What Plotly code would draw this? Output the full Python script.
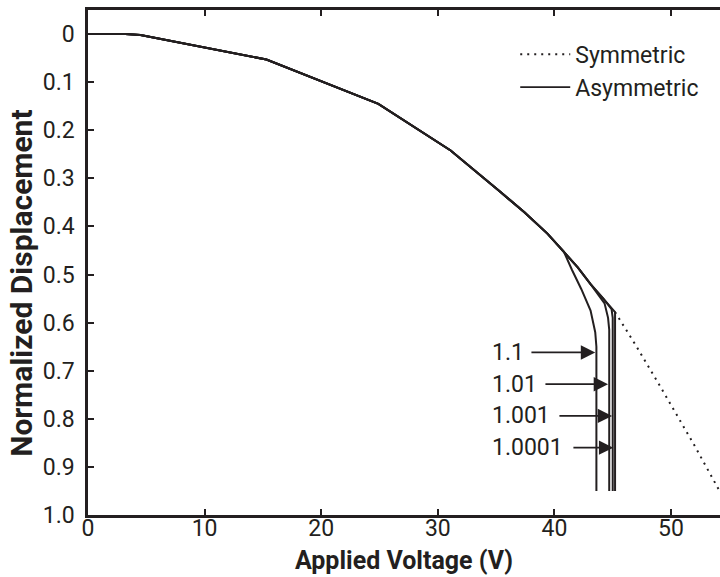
import plotly.graph_objects as go

# ---------------- data ----------------
# shared (stable) branch, identical for all cases
V_common = [0.0, 3.2, 4.5, 15.3, 24.9, 31.1, 35.3, 37.4, 39.4, 40.8]
D_common = [0.0, 0.0, 0.002, 0.053, 0.145, 0.242, 0.327, 0.370, 0.415, 0.452]

# asymmetric tails (after the shared branch)
V_tail_1p1 = [41.5, 42.3, 43.1, 43.5, 43.6, 43.6]
D_tail_1p1 = [0.490, 0.530, 0.575, 0.620, 0.650, 0.950]

V_tail_1p01 = [42.0, 43.1, 43.7, 44.3, 44.6, 44.7, 44.7]
D_tail_1p01 = [0.485, 0.520, 0.540, 0.560, 0.590, 0.615, 0.950]

V_tail_1p001 = [42.0, 43.1, 44.2, 44.9, 45.0, 45.0]
D_tail_1p001 = [0.485, 0.520, 0.550, 0.572, 0.590, 0.950]

V_tail_1p0001 = [42.0, 43.1, 44.2, 45.2, 45.2]
D_tail_1p0001 = [0.485, 0.520, 0.550, 0.578, 0.950]

# symmetric branch beyond pull-in (dotted)
V_sym = [45.2, 47.0, 49.3, 52.0, 54.5]
D_sym = [0.578, 0.648, 0.742, 0.855, 0.965]

# labels for asymmetry ratios
ratio_labels = ["1.1", "1.01", "1.001", "1.0001"]
ratio_label_y = [0.662, 0.728, 0.794, 0.860]
arrow_tail_x = [37.9, 39.1, 40.3, 41.5]
arrow_tip_x = [43.5, 44.6, 44.95, 45.05]
label_x = 34.5

x_ticks = [0, 10, 20, 30, 40, 50]
y_ticks = [0, 0.1, 0.2, 0.3, 0.4, 0.5, 0.6, 0.7, 0.8, 0.9, 1.0]
y_tick_text = ["0", "0.1", "0.2", "0.3", "0.4", "0.5", "0.6", "0.7", "0.8", "0.9", "1.0"]

x_title = "Applied Voltage (V)"
y_title = "Normalized Displacement"

# ---------------- figure ----------------
INK = "#231f20"
fig = go.Figure()

tails = [(V_tail_1p1, D_tail_1p1), (V_tail_1p01, D_tail_1p01),
         (V_tail_1p001, D_tail_1p001), (V_tail_1p0001, D_tail_1p0001)]
for i, (vt, dt) in enumerate(tails):
    fig.add_trace(go.Scatter(
        x=V_common + vt, y=D_common + dt, mode="lines",
        line=dict(color=INK, width=2),
        name="Asymmetric", legendgroup="asym", showlegend=False,
        hoverinfo="skip"))

fig.add_trace(go.Scatter(
    x=V_sym, y=D_sym, mode="lines",
    line=dict(color=INK, width=2, dash="2px,5px"),
    name="Symmetric", showlegend=True, hoverinfo="skip"))
# legend entry for asymmetric
fig.add_trace(go.Scatter(
    x=[None], y=[None], mode="lines",
    line=dict(color=INK, width=1.8),
    name="Asymmetric", showlegend=True))

annotations = []
for txt, yv, xt, xh in zip(ratio_labels, ratio_label_y, arrow_tail_x, arrow_tip_x):
    annotations.append(dict(
        x=xh, y=yv, ax=xt, ay=yv, xref="x", yref="y", axref="x", ayref="y",
        text="", showarrow=True, arrowhead=2, arrowsize=1.6, arrowwidth=1.8,
        arrowcolor=INK, standoff=0, startstandoff=0))
    annotations.append(dict(
        x=label_x, y=yv, xref="x", yref="y", text=txt, showarrow=False,
        xanchor="left", yanchor="middle",
        font=dict(family="Roboto", size=23, color=INK)))

# y-axis title (placed as rotated text to match the reference position)
annotations.append(dict(
    x=-0.1044, y=0.458, xref="paper", yref="paper", text="<b>%s</b>" % y_title,
    textangle=-90, showarrow=False, xanchor="center", yanchor="middle",
    font=dict(family="Roboto", size=30, color=INK)))

fig.update_layout(
    width=720, height=577,
    margin=dict(l=88, r=0, t=10, b=62),
    plot_bgcolor="white", paper_bgcolor="white",
    font=dict(family="Roboto", size=23, color=INK),
    showlegend=True,
    legend=dict(x=0.676, y=0.955, xanchor="left", yanchor="top",
                bgcolor="rgba(0,0,0,0)", borderwidth=0, itemwidth=50,
                font=dict(family="Roboto", size=23, color=INK),
                tracegroupgap=0, itemclick=False),
    annotations=annotations,
)

fig.update_xaxes(
    range=[0, 54.2], tickvals=x_ticks, ticks="inside", ticklen=6, tickwidth=1.5,
    tickcolor=INK, showline=True, linecolor=INK, linewidth=2.5, mirror="ticks",
    showgrid=False, zeroline=False, ticklabelstandoff=-9,
    tickfont=dict(family="Roboto", size=23, color=INK),
    title=dict(text="<b>%s</b>" % x_title, standoff=11,
               font=dict(family="Roboto", size=25, color=INK)))

fig.update_yaxes(
    range=[1.0, -0.05], tickvals=y_ticks, ticktext=y_tick_text, ticks="inside",
    ticklen=6, tickwidth=1.5, tickcolor=INK, showline=True, linecolor=INK,
    linewidth=2.5, mirror=False, showgrid=False, zeroline=False,
    ticklabelstandoff=6,
    tickfont=dict(family="Roboto", size=23, color=INK))

fig.write_html("out.html")
